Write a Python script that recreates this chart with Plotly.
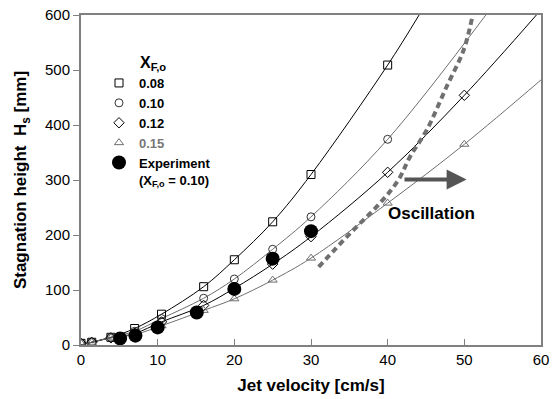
import plotly.graph_objects as go

# ---- data ----
x_sim = [0, 1.4, 3.9, 7, 10.5, 16, 20, 25, 30, 40, 50]
h_008 = [3, 5, 14, 30, 56, 106, 155, 224, 310, 509, None]
h_010 = [3, 5, 14, 25, 48, 85, 120, 174, 233, 374, None]
h_012 = [3, 5, 13, 21, 42, 72, 103, 147, 197, 314, 454]
h_015 = [3, 5, 13, 19, 35, 63, 84, 118, 158, 258, 365]

# fitted curves (incl. where it leaves the frame)
cx_008 = [0, 1.4, 3.9, 7, 10.5, 16, 20, 25, 30, 40, 44.1]
cy_008 = [0, 5, 14, 30, 56, 106, 155, 224, 310, 509, 600]
cx_010 = [0, 1.4, 3.9, 7, 10.5, 16, 20, 25, 30, 40, 52.8]
cy_010 = [0, 5, 14, 25, 48, 85, 120, 174, 233, 374, 600]
cx_012 = [0, 1.4, 3.9, 7, 10.5, 16, 20, 25, 30, 40, 50, 59.4]
cy_012 = [0, 5, 13, 21, 42, 72, 103, 147, 197, 314, 454, 600]
cx_015 = [0, 1.4, 3.9, 7, 10.5, 16, 20, 25, 30, 40, 50, 60]
cy_015 = [0, 5, 13, 19, 35, 63, 84, 118, 158, 258, 365, 482]

x_exp = [5.1, 7.1, 10, 15.1, 20, 25, 30]
h_exp = [12, 17, 32, 59, 102, 157, 207]

osc_x = [31.0, 35.1, 39.0, 41.4, 42.9, 45.1, 47.7, 49.9, 51.0]
osc_y = [142, 203, 258, 300, 342, 391, 470, 536, 594]

arrow_start = (42, 301)
arrow_end = (50.3, 301)
osc_label = (45.7, 239)

BLACK = "#000000"
GRAY = "#6e6e6e"
FONT = "Liberation Sans, Arial, sans-serif"

fig = go.Figure()

curves = [(cx_008, cy_008, BLACK), (cx_010, cy_010, GRAY),
          (cx_012, cy_012, BLACK), (cx_015, cy_015, GRAY)]
for cx, cy, col in curves:
    fig.add_trace(go.Scatter(x=cx, y=cy, mode="lines", line=dict(color=col, width=1, shape="spline"),
                             showlegend=False, hoverinfo="skip"))

fig.add_trace(go.Scatter(x=osc_x, y=osc_y, mode="lines",
                         line=dict(color="#707070", width=4, dash="6px,4px", shape="spline"),
                         showlegend=False))

series = [("0.08", h_008, "square-open", BLACK, "0.08"),
          ("0.10", h_010, "circle-open", "#333333", "0.10"),
          ("0.12", h_012, "diamond-open", BLACK, "0.12"),
          ("0.15", h_015, "triangle-up-open", GRAY, "<span style='color:#777777'>0.15</span>")]
for key, ys, sym, col, nm in series:
    fig.add_trace(go.Scatter(x=x_sim, y=ys, mode="markers", name=nm,
                             marker=dict(symbol=sym, size=8, color=col, line=dict(width=1, color=col))))

fig.add_trace(go.Scatter(x=x_exp, y=h_exp, mode="markers",
                         name="Experiment<br>(X<sub>F,o</sub> = 0.10)",
                         marker=dict(symbol="circle", size=14, color=BLACK)))

fig.add_annotation(x=arrow_end[0], y=arrow_end[1], ax=arrow_start[0], ay=arrow_start[1],
                   xref="x", yref="y", axref="x", ayref="y", showarrow=True,
                   arrowhead=2, arrowsize=1, arrowwidth=4, arrowcolor="#555555", text="")
fig.add_annotation(x=osc_label[0], y=osc_label[1], xref="x", yref="y", showarrow=False,
                   text="<b>Oscillation</b>", font=dict(size=17, color=BLACK, family=FONT))

fig.add_annotation(x=(153 - 81) / 460, y=(345 - 64) / 330, xref="paper", yref="paper",
                   xanchor="center", yanchor="middle", showarrow=False,
                   text="<b>X<sub>F,o</sub></b>", font=dict(size=16, color=BLACK, family=FONT))

fig.update_layout(
    width=556, height=399,
    margin=dict(l=81, r=15, t=15, b=54),
    plot_bgcolor="white", paper_bgcolor="white",
    font=dict(family=FONT, size=15, color=BLACK),
    legend=dict(x=(99 - 81) / 460, y=(345 - 68) / 330, xanchor="left", yanchor="top", bgcolor="rgba(0,0,0,0)",
                font=dict(size=13, family=FONT, color=BLACK, weight="bold"),
                itemwidth=30, tracegroupgap=0, valign="top"),
)

fig.update_xaxes(range=[0, 60], dtick=10, ticks="inside", ticklen=6, tickcolor="#808080",
                 showline=True, linecolor="#808080", linewidth=2, mirror=True, showgrid=False,
                 zeroline=False, automargin=False,
                 title=dict(text="<b>Jet velocity [cm/s]</b>", font=dict(size=17), standoff=12))
fig.update_yaxes(range=[0, 600], dtick=100, ticks="outside", ticklen=6, tickcolor="#808080",
                 showline=True, linecolor="#808080", linewidth=2, mirror=True, showgrid=False,
                 zeroline=False, automargin=False,
                 title=dict(text="<b>Stagnation height  H<sub>s</sub> [mm]</b>", font=dict(size=17), standoff=14))

fig.write_html("out.html")
